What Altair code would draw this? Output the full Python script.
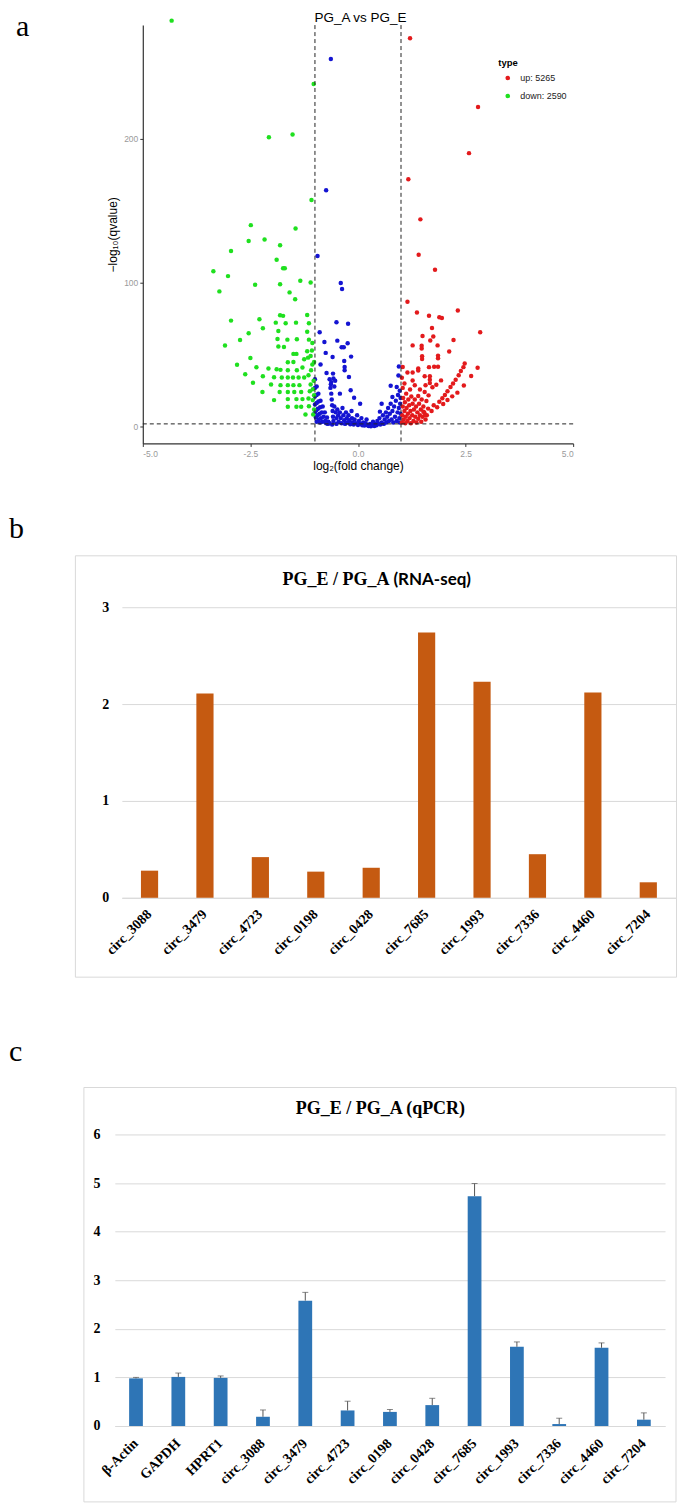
import altair as alt
import pandas as pd

SERIF = "Liberation Serif"
SANS = "Liberation Sans"

# ---------------- Panel a : volcano plot ----------------
volcano_types = ["up: 5265", "down: 2590", "normal"]
volcano_colors = ["#e31a1c", "#1fe01f", "#1414d2"]
legend_types = ["up: 5265", "down: 2590"]
fc_cutoffs = [-1, 1]
q_cutoff = [2]
x_range_a = [-5, 5]
x_ticks_a = [-5, -2.5, 0, 2.5, 5]
y_ticks_a = [0, 100, 200]

down_pts = [
    (-4.33, 282), (-1.03, 238), (-2.07, 201), (-1.52, 203), (-1.08, 157.5), (-2.49, 140),
    (-1.45, 137.6), (-2.54, 129), (-2.17, 130), (-1.81, 126), (-2.95, 122), (-1.89, 116),
    (-1.74, 110), (-1.70, 110), (-3.36, 108), (-3.02, 104.6), (-1.34, 101.4), (-1.10, 100.2),
    (-2.39, 98.6), (-1.81, 99), (-3.22, 94), (-1.59, 93.3), (-1.46, 88.5),
    (-2.95, 73.7), (-2.29, 74.6), (-1.81, 77.4), (-1.74, 77), (-1.18, 77.6), (-1.91, 72.3),
    (-1.68, 71.8), (-1.44, 72.3), (-1.14, 71.8), (-2.21, 68.4), (-2.54, 65), (-1.85, 66.5),
    (-1.18, 66), (-2.74, 60.3), (-3.09, 56.4), (-1.87, 61), (-1.64, 60.5), (-1.42, 60.7),
    (-1.14, 60.5), (-1.06, 58.2),
    (-1.72, 55.4), (-1.85, 55.7), (-1.43, 50.6), (-1.50, 50.6), (-1.18, 52.4), (-2.50, 47.8),
    (-2.81, 43), (-2.36, 41.3), (-2.08, 40.4), (-1.89, 40), (-2.62, 36.5), (-2.44, 30.5),
    (-2.21, 35.1), (-2.22, 24.2), (-2.02, 29.3), (-1.95, 34.4), (-1.95, 18.5), (-1.82, 24.2),
    (-1.80, 28.9), (-1.77, 34.2), (-1.80, 39.5),
    (-1.63, 13.9), (-1.63, 19.2), (-1.63, 24.2), (-1.63, 28.9), (-1.63, 34.2), (-1.63, 39.3), (-1.63, 44.8),
    (-1.43, 13.9), (-1.43, 19.2), (-1.48, 24.2), (-1.50, 28.9), (-1.51, 34.2), (-1.42, 39.3), (-1.50, 45),
    (-1.22, 8.5), (-1.32, 13.9), (-1.29, 19.2), (-1.32, 24.2), (-1.36, 28.9), (-1.38, 34.2),
    (-1.29, 41.1), (-1.25, 46.9),
    (-1.04, 8.5), (-1.14, 14.3), (-1.15, 19.6), (-1.12, 24.7), (-1.10, 29.3), (-1.25, 34.2),
    (-1.15, 35.8), (-1.09, 39.3), (-1.06, 43.2), (-1.16, 48), (-1.10, 49.2), (-1.05, 18.5),
    (-1.02, 21.9), (-1.02, 12), (-1.05, 26), (-1.03, 32), (-1.02, 45), (-1.07, 53),
]

normal_pts = [
    (-0.63, 255.4), (-0.74, 164.2), (-0.94, 118.5), (-0.40, 99.8), (-0.37, 95.6), (-0.50, 72.5),
    (-0.23, 71.6), (-0.89, 65.6), (-0.78, 58.9), (-0.48, 59.8), (-0.24, 58), (-0.38, 55.2),
    (-0.33, 55.2), (-0.75, 51.3), (-0.59, 48.5), (-0.16, 48.7), (-0.87, 43.3), (-0.32, 45.6),
    (-0.31, 41.5), (-0.31, 39.2), (-0.73, 37.3), (-0.58, 36.9), (-0.21, 34.5), (-0.17, 25.3),
    (-0.42, 23), (-0.09, 20.2), (0.05, 16), (0.95, 41.8), (0.94, 35.6), (0.76, 28.5),
    (0.90, 27.6), (0.80, 20.7), (0.55, 16), (0.51, 10.5),
    (-0.66, 33), (-0.62, 31), (-0.57, 33.5), (-0.53, 32), (-0.63, 29.5), (-0.55, 28),
    (-1.00, 33), (-0.96, 28), (-0.92, 23), (-0.87, 18), (-0.82, 14), (-0.77, 10), (-0.72, 6.5), (-0.69, 3.5),
    (-1.00, 27), (-0.96, 22), (-0.92, 17.5), (-0.88, 13.5), (-0.84, 10), (-0.80, 7), (-0.76, 4),
    (-1.00, 21), (-0.96, 16.5), (-0.93, 12.5), (-0.89, 9), (-0.86, 6), (-0.82, 3.5),
    (-1.00, 15.5), (-0.97, 11.5), (-0.94, 8), (-0.91, 5), (-0.88, 3),
    (-1.00, 10), (-0.98, 6.5), (-0.96, 3.5),
    (-0.64, 27), (-0.62, 23), (-0.61, 19), (-0.60, 15), (-0.59, 11), (-0.58, 7), (-0.57, 4), (-0.66, 2.5),
    (-0.55, 14), (-0.52, 10), (-0.50, 6), (-0.48, 12), (-0.46, 8), (-0.45, 3.5), (-0.42, 10),
    (-0.40, 6), (-0.38, 2.5), (-0.36, 13), (-0.34, 8), (-0.32, 4.5), (-0.30, 2), (-0.28, 10),
    (-0.26, 6), (-0.24, 3), (-0.22, 8), (-0.20, 4.5), (-0.18, 1.8), (-0.15, 11), (-0.14, 6),
    (-0.12, 3), (-0.10, 1.5), (-0.08, 5), (-0.05, 2.5), (-0.02, 8), (0.00, 1.2), (0.02, 4),
    (0.05, 2), (0.08, 6), (0.10, 1), (0.12, 3), (0.15, 0.8), (0.18, 2.5), (0.20, 5), (0.22, 1),
    (0.25, 0.5), (0.28, 2), (0.30, 0.3), (0.33, 1.2), (0.35, 3.5), (0.38, 0.6), (0.40, 2),
    (0.43, 1), (0.45, 4), (0.48, 2), (0.50, 6), (0.52, 1.5), (0.55, 3), (0.58, 8), (0.60, 2),
    (0.62, 5), (0.65, 10), (0.66, 3), (0.68, 7), (0.70, 13), (0.72, 4), (0.74, 9), (0.76, 16),
    (0.78, 5), (0.80, 11), (0.82, 3), (0.84, 14), (0.86, 7), (0.88, 18), (0.90, 4), (0.92, 10),
    (0.93, 22), (0.95, 13), (0.96, 6), (0.97, 25), (0.98, 16), (0.99, 9), (0.99, 20), (0.97, 3),
    (-0.70, 2), (-0.74, 2.5), (-0.50, 2), (-0.60, 1.5),
]

up_pts = [
    (1.21, 269.7), (2.79, 222), (2.58, 190), (1.17, 171.8), (1.45, 144), (1.41, 119.4),
    (1.79, 109), (1.15, 86.8), (2.32, 80.8), (1.37, 79.4), (1.65, 77.1), (1.89, 76),
    (1.95, 75.5), (2.84, 65.6), (1.72, 68.6), (1.50, 63), (1.75, 62.7), (1.68, 59.9),
    (2.22, 60.3), (1.27, 56.5), (1.85, 56.5), (1.48, 56.3), (1.48, 54.4), (2.12, 52.2),
    (1.49, 49), (1.49, 47), (1.86, 49.4), (1.86, 47.6), (2.48, 43.9), (2.78, 40.9),
    (1.04, 41.5), (1.40, 40.5), (1.40, 39), (1.65, 41.4), (1.77, 41.6), (1.86, 41.6),
    (2.45, 41.4), (2.39, 38.7), (2.34, 35.7), (2.63, 35.2), (2.27, 32.6), (2.46, 28.6),
    (2.21, 30), (2.15, 27.6), (2.08, 24.6), (2.02, 22.1), (1.96, 19.8), (1.89, 17.3),
    (1.76, 15), (1.63, 12.6), (2.31, 23.7), (2.19, 21.1), (2.08, 18.6), (1.98, 15.8),
    (1.84, 13.5), (1.71, 11), (1.15, 37.7), (1.27, 37.7), (1.55, 35), (1.67, 35),
    (1.67, 32.6), (1.67, 30.3), (1.93, 32.2), (1.82, 29.2), (1.73, 27.4), (1.57, 28.8),
    (1.27, 32.1), (1.32, 28.8), (1.44, 25.8), (1.21, 25.8), (1.55, 24.1), (1.64, 21.8),
    (1.40, 21.3), (1.48, 19), (1.59, 17.9),
    (1.02, 3), (1.03, 8), (1.04, 14), (1.05, 20), (1.06, 5), (1.08, 11), (1.09, 17),
    (1.10, 2.5), (1.11, 7), (1.12, 23), (1.13, 13), (1.15, 4), (1.16, 9), (1.17, 19),
    (1.19, 15), (1.20, 6), (1.22, 11), (1.23, 2.5), (1.24, 21), (1.26, 8), (1.27, 16),
    (1.29, 4), (1.30, 12), (1.32, 19), (1.33, 7), (1.35, 14), (1.36, 3), (1.38, 10),
    (1.40, 5.5), (1.42, 16), (1.44, 8), (1.46, 12), (1.47, 3.5), (1.50, 7), (1.52, 14),
    (1.54, 10), (1.57, 5), (1.60, 8), (1.52, 10.5), (1.56, 8.2), (1.04, 27), (1.08, 30),
    (1.02, 34),
]

# ---------------- Panel b : RNA-seq ratios ----------------
b_genes = ["circ_3088", "circ_3479", "circ_4723", "circ_0198", "circ_0428",
           "circ_7685", "circ_1993", "circ_7336", "circ_4460", "circ_7204"]
b_ratio = [0.28, 2.11, 0.42, 0.27, 0.31, 2.74, 2.23, 0.45, 2.12, 0.16]
b_ticks = [0, 1, 2, 3]

# ---------------- Panel c : qPCR ratios ----------------
c_genes = ["β-Actin", "GAPDH", "HPRT1", "circ_3088", "circ_3479", "circ_4723", "circ_0198",
           "circ_0428", "circ_7685", "circ_1993", "circ_7336", "circ_4460", "circ_7204"]
c_ratio = [0.98, 1.01, 0.99, 0.19, 2.58, 0.32, 0.29, 0.43, 4.73, 1.63, 0.04, 1.61, 0.13]
c_err = [0.02, 0.08, 0.04, 0.14, 0.17, 0.19, 0.05, 0.14, 0.26, 0.10, 0.12, 0.10, 0.14]
c_ticks = [0, 1, 2, 3, 4, 5, 6]

# All three panels share the same left origin (x = 74 px on the page).

# ================= build panel a =================
def pts_df(pts, label):
    return pd.DataFrame({"lfc": [p[0] for p in pts], "q": [p[1] for p in pts], "type": label})


volcano = pd.concat([pts_df(normal_pts, "normal"), pts_df(down_pts, "down: 2590"),
                     pts_df(up_pts, "up: 5265")], ignore_index=True)

xs_a = alt.Scale(domain=x_range_a, range=[68, 499], nice=False, zero=False)
ys_a = alt.Scale(domain=[-11.6, 278.9], nice=False, zero=False)

axis_a = dict(domainColor="#333333", domainWidth=1.2, tickColor="#333333", tickSize=3,
              labelColor="#9a9a9a", labelFont=SANS, labelFontSize=8.5, titleFont=SANS,
              titleFontSize=12, titleFontWeight="normal", titleColor="black", grid=False)

points = alt.Chart(volcano).mark_circle(size=20, opacity=1).encode(
    x=alt.X("lfc:Q", scale=xs_a,
            axis=alt.Axis(values=x_ticks_a,
                          labelExpr="replace(format(datum.value, '.1f'), '\u2212', '-')",
                          title="log\u2082(fold change)", labelPadding=3, titlePadding=3, **axis_a)),
    y=alt.Y("q:Q", scale=ys_a,
            axis=alt.Axis(values=y_ticks_a, title="\u2212log\u2081\u2080(qvalue)", offset=-68,
                          labelPadding=2, titlePadding=4, **axis_a)),
    color=alt.Color("type:N", scale=alt.Scale(domain=volcano_types, range=volcano_colors),
                    legend=alt.Legend(values=legend_types, title="type", orient="none",
                                      legendX=424, legendY=33, symbolType="circle",
                                      symbolSize=22, symbolStrokeWidth=0, symbolOffset=5,
                                      labelOffset=8, rowPadding=8, titlePadding=6,
                                      labelFont=SANS, labelFontSize=9, labelColor="#222222",
                                      titleFont=SANS, titleFontSize=9.5, titleFontWeight="bold",
                                      titleColor="black")),
)

vlines = alt.Chart(pd.DataFrame({"lfc": fc_cutoffs})).mark_rule(
    color="#222222", strokeDash=[4, 3], strokeWidth=1
).encode(x=alt.X("lfc:Q", scale=xs_a))

hline = alt.Chart(pd.DataFrame({"q": q_cutoff, "lfc": [x_range_a[0]], "lfc_end": [x_range_a[1]]})).mark_rule(
    color="#222222", strokeDash=[4, 3], strokeWidth=1
).encode(y=alt.Y("q:Q", scale=ys_a), x=alt.X("lfc:Q", scale=xs_a), x2="lfc_end:Q")

title_a = alt.Chart(pd.DataFrame({"t": ["PG_A vs PG_E"]})).mark_text(
    align="center", baseline="alphabetic", font=SANS, fontSize=13.5, color="black"
).encode(x=alt.value(286), y=alt.value(-3), text="t:N")

letter_a = alt.Chart(pd.DataFrame({"t": ["a"]})).mark_text(
    align="left", baseline="alphabetic", font=SERIF, fontSize=30, color="black"
).encode(x=alt.value(-59), y=alt.value(11), text="t:N")

chart_a = alt.layer(points, vlines, hline, title_a, letter_a).properties(
    width=499, height=419,
    view=alt.ViewBackground(stroke=None),
)

# ================= build panel b =================
df_b = pd.DataFrame({"gene": b_genes, "ratio": b_ratio})

xb = alt.X("gene:N", sort=b_genes,
           scale=alt.Scale(range=[47, 602], paddingInner=0.69, paddingOuter=0.345),
           axis=alt.Axis(title=None, labelAngle=-45, labelAlign="right", labelBaseline="middle",
                         labelFont=SERIF, labelFontWeight="bold",
                         labelFontSize=14, labelColor="black", ticks=False, tickSize=0,
                         domain=True, domainColor="#d9d9d9", offset=-79, labelPadding=14))
yb = alt.Y("ratio:Q", scale=alt.Scale(domain=[0, 3], range=[343, 52], nice=False, zero=True),
           axis=alt.Axis(title=None, values=b_ticks, format="d", grid=True, gridColor="#d9d9d9",
                         domain=False, ticks=False, tickSize=0, offset=-47, labelPadding=13,
                         labelFont=SERIF, labelFontWeight="bold", labelFontSize=14,
                         labelColor="black"))

bars_b = alt.Chart(df_b).mark_bar(color="#C55A11").encode(x=xb, y=yb)

title_b1 = alt.Chart(pd.DataFrame({"t": ["PG_E / PG_A"]})).mark_text(
    align="right", baseline="alphabetic", font=SERIF, fontWeight="bold", fontSize=18, color="black"
).encode(x=alt.value(315), y=alt.value(29.5), text="t:N")
title_b2 = alt.Chart(pd.DataFrame({"t": ["(RNA-seq)"]})).mark_text(
    align="left", baseline="alphabetic", font="Lato", fontWeight="bold", fontSize=17, color="black"
).encode(x=alt.value(319), y=alt.value(29.5), text="t:N")
letter_b = alt.Chart(pd.DataFrame({"t": ["b"]})).mark_text(
    align="left", baseline="alphabetic", font=SERIF, fontSize=30, color="black"
).encode(x=alt.value(-66), y=alt.value(-17), text="t:N")

chart_b = alt.layer(bars_b, title_b1, title_b2, letter_b).properties(
    width=602, height=422,
    view=alt.ViewBackground(stroke="#d9d9d9", strokeWidth=1),
)

# ================= build panel c =================
df_c = pd.DataFrame({"gene": c_genes, "ratio": c_ratio,
                     "hi": [v + e for v, e in zip(c_ratio, c_err)]})

yc_scale = alt.Scale(domain=[0, 6], range=[339, 47], nice=False, zero=True)
xc = alt.X("gene:N", sort=c_genes,
           scale=alt.Scale(range=[40, 591], paddingInner=0.675, paddingOuter=0.3375),
           axis=alt.Axis(title=None, labelAngle=-45, labelAlign="right", labelBaseline="middle",
                         labelFont=SERIF, labelFontWeight="bold",
                         labelFontSize=14, labelColor="black", ticks=False, tickSize=0,
                         domain=True, domainColor="#d9d9d9", offset=-76, labelPadding=15))
yc = alt.Y("ratio:Q", scale=yc_scale,
           axis=alt.Axis(title=None, values=c_ticks, format="d", grid=True, gridColor="#d9d9d9",
                         domain=False, ticks=False, tickSize=0, offset=-40, labelPadding=15,
                         labelFont=SERIF, labelFontWeight="bold", labelFontSize=14,
                         labelColor="black"))

frame_c = alt.Chart(pd.DataFrame({"t": ["frame"]})).mark_rect(
    fillOpacity=0, stroke="#d9d9d9", strokeWidth=1
).encode(x=alt.value(9), x2=alt.value(602), y=alt.value(0), y2=alt.value(415))
bars_c = alt.Chart(df_c).mark_bar(color="#2E75B6").encode(x=xc, y=yc)
err_c = alt.Chart(df_c).mark_rule(color="#555555", strokeWidth=1).encode(x=xc, y=yc, y2="hi:Q")
cap_c = alt.Chart(df_c).mark_tick(color="#555555", thickness=1, size=6).encode(
    x=xc, y=alt.Y("hi:Q", scale=yc_scale))

title_c = alt.Chart(pd.DataFrame({"t": ["PG_E / PG_A (qPCR)"]})).mark_text(
    align="center", baseline="alphabetic", font=SERIF, fontWeight="bold", fontSize=18, color="black"
).encode(x=alt.value(306), y=alt.value(27), text="t:N")
letter_c = alt.Chart(pd.DataFrame({"t": ["c"]})).mark_text(
    align="left", baseline="alphabetic", font=SERIF, fontSize=30, color="black"
).encode(x=alt.value(-66), y=alt.value(-27), text="t:N")

chart_c = alt.layer(frame_c, bars_c, err_c, cap_c, title_c, letter_c).properties(
    width=602, height=415,
    view=alt.ViewBackground(stroke=None),
)

# ================= assemble =================
lower = alt.vconcat(chart_b, chart_c, spacing=59)
chart = alt.vconcat(chart_a, lower, spacing=41).properties(
    padding={"left": 0, "top": 2, "right": 0, "bottom": 0}
)

chart.save("out.html", embed_options={"renderer": "svg", "actions": False})
